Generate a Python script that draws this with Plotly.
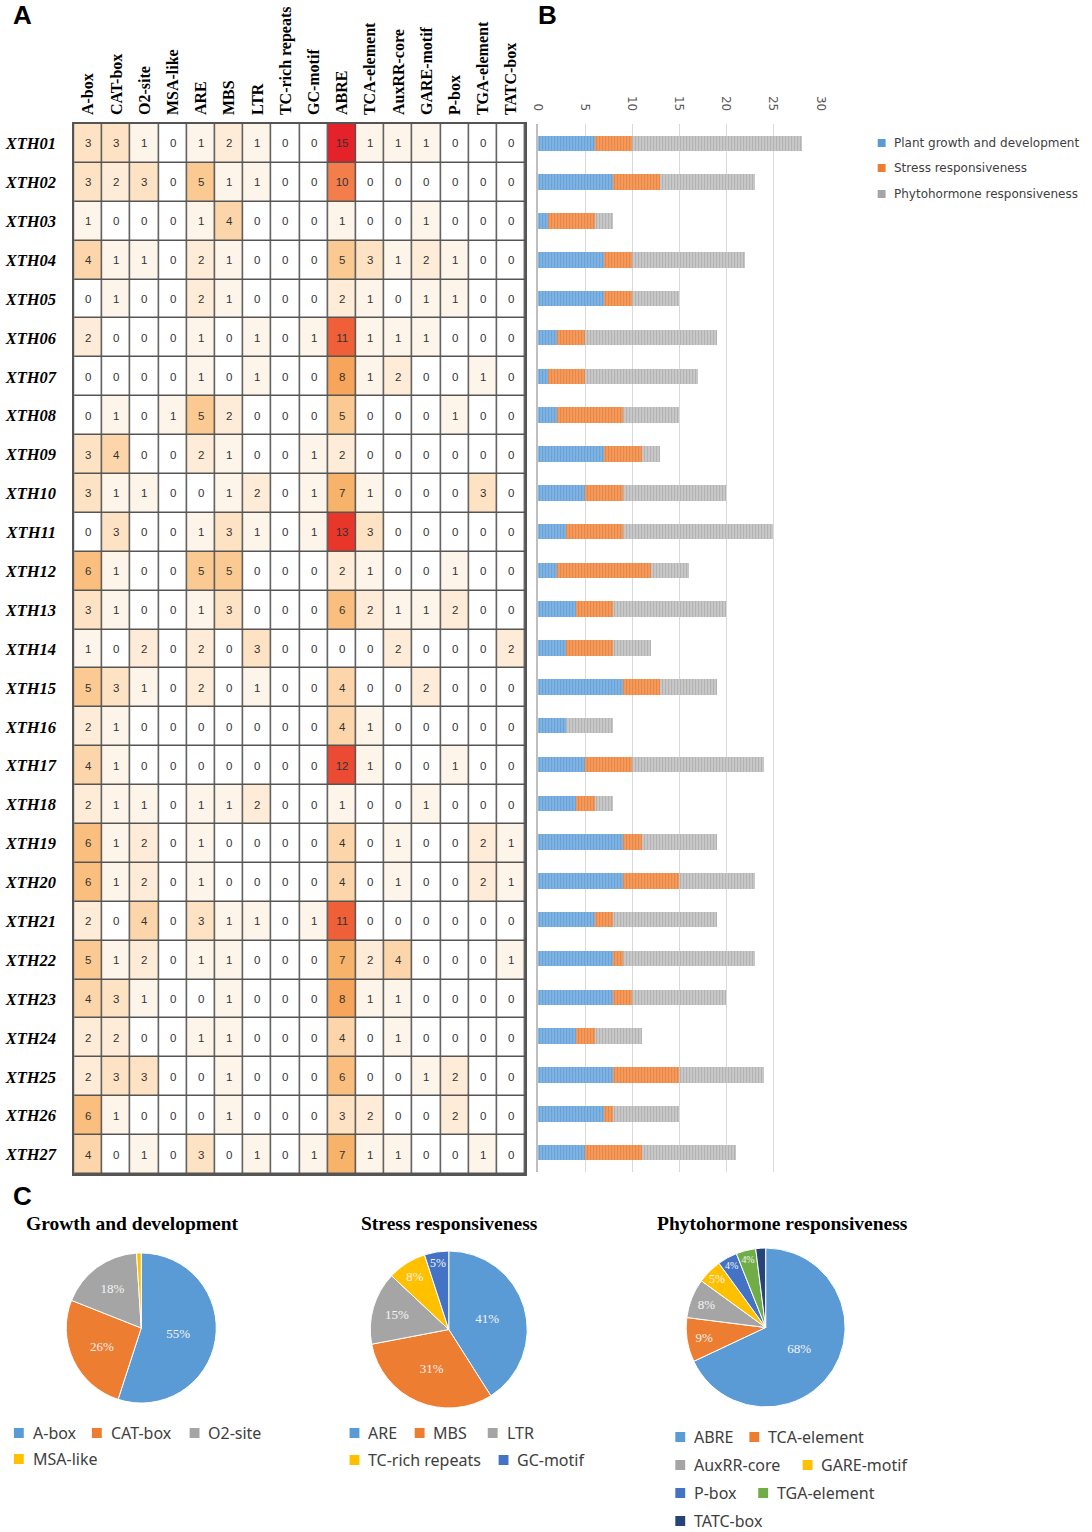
import plotly.graph_objects as go

W, H = 1092, 1532

# ---------------- data ----------------
genes = ["XTH01", "XTH02", "XTH03", "XTH04", "XTH05", "XTH06", "XTH07", "XTH08", "XTH09",
         "XTH10", "XTH11", "XTH12", "XTH13", "XTH14", "XTH15", "XTH16", "XTH17", "XTH18",
         "XTH19", "XTH20", "XTH21", "XTH22", "XTH23", "XTH24", "XTH25", "XTH26", "XTH27"]

elements = ["A-box", "CAT-box", "O2-site", "MSA-like", "ARE", "MBS", "LTR", "TC-rich repeats",
            "GC-motif", "ABRE", "TCA-element", "AuxRR-core", "GARE-motif", "P-box",
            "TGA-element", "TATC-box"]

counts = [
    [3, 3, 1, 0, 1, 2, 1, 0, 0, 15, 1, 1, 1, 0, 0, 0],
    [3, 2, 3, 0, 5, 1, 1, 0, 0, 10, 0, 0, 0, 0, 0, 0],
    [1, 0, 0, 0, 1, 4, 0, 0, 0, 1, 0, 0, 1, 0, 0, 0],
    [4, 1, 1, 0, 2, 1, 0, 0, 0, 5, 3, 1, 2, 1, 0, 0],
    [0, 1, 0, 0, 2, 1, 0, 0, 0, 2, 1, 0, 1, 1, 0, 0],
    [2, 0, 0, 0, 1, 0, 1, 0, 1, 11, 1, 1, 1, 0, 0, 0],
    [0, 0, 0, 0, 1, 0, 1, 0, 0, 8, 1, 2, 0, 0, 1, 0],
    [0, 1, 0, 1, 5, 2, 0, 0, 0, 5, 0, 0, 0, 1, 0, 0],
    [3, 4, 0, 0, 2, 1, 0, 0, 1, 2, 0, 0, 0, 0, 0, 0],
    [3, 1, 1, 0, 0, 1, 2, 0, 1, 7, 1, 0, 0, 0, 3, 0],
    [0, 3, 0, 0, 1, 3, 1, 0, 1, 13, 3, 0, 0, 0, 0, 0],
    [6, 1, 0, 0, 5, 5, 0, 0, 0, 2, 1, 0, 0, 1, 0, 0],
    [3, 1, 0, 0, 1, 3, 0, 0, 0, 6, 2, 1, 1, 2, 0, 0],
    [1, 0, 2, 0, 2, 0, 3, 0, 0, 0, 0, 2, 0, 0, 0, 2],
    [5, 3, 1, 0, 2, 0, 1, 0, 0, 4, 0, 0, 2, 0, 0, 0],
    [2, 1, 0, 0, 0, 0, 0, 0, 0, 4, 1, 0, 0, 0, 0, 0],
    [4, 1, 0, 0, 0, 0, 0, 0, 0, 12, 1, 0, 0, 1, 0, 0],
    [2, 1, 1, 0, 1, 1, 2, 0, 0, 1, 0, 0, 1, 0, 0, 0],
    [6, 1, 2, 0, 1, 0, 0, 0, 0, 4, 0, 1, 0, 0, 2, 1],
    [6, 1, 2, 0, 1, 0, 0, 0, 0, 4, 0, 1, 0, 0, 2, 1],
    [2, 0, 4, 0, 3, 1, 1, 0, 1, 11, 0, 0, 0, 0, 0, 0],
    [5, 1, 2, 0, 1, 1, 0, 0, 0, 7, 2, 4, 0, 0, 0, 1],
    [4, 3, 1, 0, 0, 1, 0, 0, 0, 8, 1, 1, 0, 0, 0, 0],
    [2, 2, 0, 0, 1, 1, 0, 0, 0, 4, 0, 1, 0, 0, 0, 0],
    [2, 3, 3, 0, 0, 1, 0, 0, 0, 6, 0, 0, 1, 2, 0, 0],
    [6, 1, 0, 0, 0, 1, 0, 0, 0, 3, 2, 0, 0, 2, 0, 0],
    [4, 0, 1, 0, 3, 0, 1, 0, 1, 7, 1, 1, 0, 0, 1, 0],
]

bar_growth = [6, 8, 1, 7, 7, 2, 1, 2, 7, 5, 3, 2, 4, 3, 9, 3, 5, 4, 9, 9, 6, 8, 8, 4, 8, 7, 5]
bar_stress = [4, 5, 5, 3, 3, 3, 4, 7, 4, 4, 6, 10, 4, 5, 4, 0, 5, 2, 2, 6, 2, 1, 2, 2, 7, 1, 6]
bar_phyto = [18, 10, 2, 12, 5, 14, 12, 6, 2, 11, 16, 4, 12, 4, 6, 5, 14, 2, 8, 8, 11, 14, 10, 5, 9, 7, 10]
bar_names = ["Plant growth and development", "Stress responsiveness", "Phytohormone responsiveness"]
bar_ticks = [0, 5, 10, 15, 20, 25, 30]

growth_labels = ["A-box", "CAT-box", "O2-site", "MSA-like"]
growth_pct = [55, 26, 18, 1]
stress_labels = ["ARE", "MBS", "LTR", "TC-rich repeats", "GC-motif"]
stress_pct = [41, 31, 15, 8, 5]
phyto_labels = ["ABRE", "TCA-element", "AuxRR-core", "GARE-motif", "P-box", "TGA-element", "TATC-box"]
phyto_pct = [68, 9, 8, 5, 4, 4, 2]

pie_titles = ["Growth and development", "Stress responsiveness", "Phytohormone responsiveness"]

# ---------------- styling ----------------
BLUE, ORANGE, GRAY, YELLOW, DBLUE, GREEN, NAVY = (
    "#5B9BD5", "#ED7D31", "#A5A5A5", "#FFC000", "#4472C4", "#70AD47", "#264478")
pie_colors = [BLUE, ORANGE, GRAY, YELLOW, DBLUE, GREEN, NAVY]

heat_scale = [
    [0 / 15, "#ffffff"], [1 / 15, "#fef5ea"], [2 / 15, "#feecd8"], [3 / 15, "#fde2c3"],
    [4 / 15, "#fcd6aa"], [5 / 15, "#fbca92"], [6 / 15, "#fabf7e"], [7 / 15, "#f8b36a"],
    [8 / 15, "#f6a55a"], [10 / 15, "#f37d4b"], [11 / 15, "#ef6039"], [12 / 15, "#eb4a33"],
    [13 / 15, "#e8362b"], [15 / 15, "#e5212a"],
]


def fx(x):
    return x / W


def fy(y):
    return 1 - y / H


SERIF = "Liberation Serif"
SANS = "Liberation Sans"

fig = go.Figure()

# Heatmap (A)
fig.add_trace(go.Heatmap(
    z=counts, x=elements, y=genes, colorscale=heat_scale, zmin=0, zmax=15,
    showscale=False, xgap=1.5, ygap=1.5,
    texttemplate="%{z}", textfont=dict(family=SANS, size=11.5, color="#333333"),
    xaxis="x", yaxis="y", hoverinfo="x+y+z",
))

# Stacked bars (B)
bar_styles = [
    ("#7fb3e2", "#4f8fd0"),
    ("#f39a5c", "#e0702a"),
    ("#c8c8c8", "#9a9a9a"),
]
for vals, name, (c, fg) in zip([bar_growth, bar_stress, bar_phyto], bar_names, bar_styles):
    fig.add_trace(go.Bar(
        x=vals, y=genes, orientation="h", name=name, showlegend=False,
        marker=dict(color=c, line=dict(width=0),
                    pattern=dict(shape="|", fgcolor=fg, size=3, solidity=0.35)),
        xaxis="x2", yaxis="y2",
    ))

# Pies (C)
pie_domains = [
    ([60, 212], [1252, 1404]),
    ([368, 527], [1250, 1409]),
    ([688, 849], [1247, 1408]),
]
for labels, pct, (dx, dy) in zip([growth_labels, stress_labels, phyto_labels],
                                 [growth_pct, stress_pct, phyto_pct], pie_domains):
    fig.add_trace(go.Pie(
        labels=labels, values=pct, sort=False, direction="clockwise", rotation=0,
        marker=dict(colors=pie_colors[:len(labels)], line=dict(color="white", width=1)),
        text=[f"{v}%" if v >= 3 else "" for v in pct], texttemplate="%{text}",
        textposition="inside", insidetextorientation="horizontal",
        textfont=dict(family=SERIF, size=13, color="#f4f4f4"),
        domain=dict(x=[fx(dx[0]), fx(dx[1])], y=[fy(dy[1]), fy(dy[0])]),
        showlegend=False, hoverinfo="label+percent",
    ))

heat_y = [fy(1174), fy(124)]

fig.update_layout(
    width=W, height=H,
    margin=dict(l=0, r=0, t=0, b=0),
    paper_bgcolor="white", plot_bgcolor="rgba(0,0,0,0)",
    barmode="stack", bargap=0.6,
    xaxis=dict(domain=[fx(68), fx(525)], side="top", anchor="y", tickangle=-90,
               tickfont=dict(family=SERIF, size=16, color="black", weight="bold"),
               showgrid=False, zeroline=False, ticks="", ticklabelstandoff=4,
               showline=True, mirror=True, linecolor="#555555", linewidth=1.5,
               range=[-0.5, len(elements) - 0.5]),
    yaxis=dict(domain=heat_y, anchor="x", range=[len(genes) - 0.5, -0.5],
               tickfont=dict(family=SERIF, size=16.5, color="black", weight="bold", style="italic"),
               showgrid=False, zeroline=False, ticks="", ticklabelstandoff=13,
               showline=True, mirror=True, linecolor="#555555", linewidth=1.5),
    xaxis2=dict(domain=[fx(538), fx(824)], anchor="y2", side="top", range=[0, 30],
                tickvals=bar_ticks, tickangle=90, ticks="",
                tickfont=dict(family="DejaVu Sans", size=12, color="#595959"),
                showgrid=True, gridcolor="#d9d9d9", gridwidth=1, zeroline=False,
                showline=False, ticklabelstandoff=10),
    yaxis2=dict(domain=[fy(1172), fy(124)], anchor="x2", range=[len(genes) - 0.5, -0.5],
                showticklabels=False, showgrid=False, zeroline=False, ticks="",
                showline=True, linecolor="#bfbfbf", linewidth=1.5),
)

shapes = [
    # gray backing under heatmap: shows through cell gaps as grid lines
    dict(type="rect", xref="paper", yref="paper", x0=fx(68), x1=fx(525),
         y0=heat_y[0], y1=heat_y[1], fillcolor="#555555", line=dict(width=0), layer="below"),
]
annotations = []

# panel letters
for letter, (x, y) in zip(["A", "B", "C"], [(4, 15), (536, 15), (4, 1196)]):
    annotations.append(dict(text=letter, x=fx(x), y=fy(y), xref="paper", yref="paper",
                            xanchor="left", yanchor="middle", showarrow=False,
                            font=dict(family=SANS, size=26, color="black", weight="bold")))

# bar legend
for name, c, y in zip(bar_names, ["#5B9BD5", "#ED7D31", "#A5A5A5"], [143, 168, 194]):
    shapes.append(dict(type="rect", xref="paper", yref="paper",
                       x0=fx(882), x1=fx(890), y0=fy(y + 4), y1=fy(y - 4),
                       fillcolor=c, line=dict(width=0)))
    annotations.append(dict(text=name, x=fx(896), y=fy(y), xref="paper", yref="paper",
                            xanchor="left", yanchor="middle", showarrow=False,
                            font=dict(family="DejaVu Sans", size=12, color="#404040")))

# pie titles
for t, x in zip(pie_titles, [127, 448, 786]):
    annotations.append(dict(text=t, x=fx(x), y=fy(1223), xref="paper", yref="paper",
                            xanchor="center", yanchor="middle", showarrow=False,
                            font=dict(family=SERIF, size=19.5, color="black", weight="bold")))

# pie legends: (marker left x, y) per item
legend_pos = [
    [(7, 1433), (86, 1433), (185, 1433), (7, 1459)],
    [(347, 1433), (413, 1433), (487, 1433), (347, 1460), (498, 1460)],
    [(677, 1437), (752, 1437), (677, 1465), (806, 1465), (677, 1493), (761, 1493), (677, 1521)],
]
for labels, positions in zip([growth_labels, stress_labels, phyto_labels], legend_pos):
    for i, (lab, (x, y)) in enumerate(zip(labels, positions)):
        shapes.append(dict(type="rect", xref="paper", yref="paper",
                           x0=fx(x), x1=fx(x + 10), y0=fy(y + 5), y1=fy(y - 5),
                           fillcolor=pie_colors[i], line=dict(width=0)))
        annotations.append(dict(text=lab, x=fx(x + 17), y=fy(y), xref="paper", yref="paper",
                                xanchor="left", yanchor="middle", showarrow=False,
                                font=dict(family="Noto Sans", size=16, color="#404040")))

fig.update_layout(shapes=shapes, annotations=annotations)

fig.write_html("out.html", config={"displayModeBar": False},
               post_script="document.body.style.margin='0px';")
